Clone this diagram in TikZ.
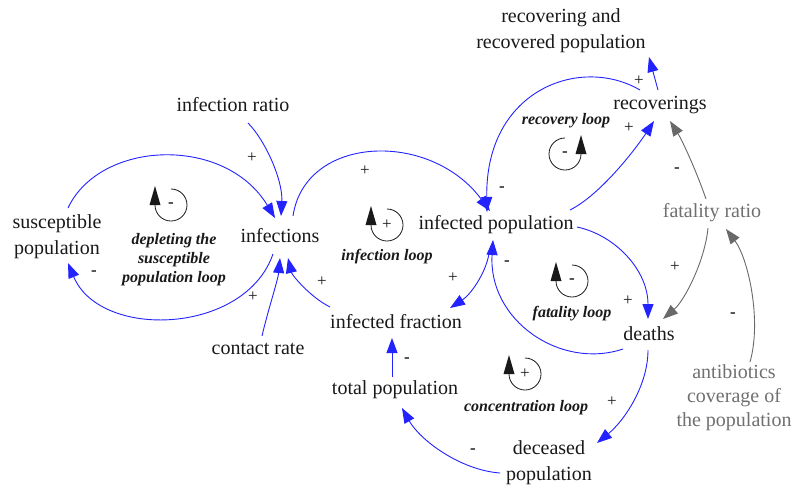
\documentclass[tikz,border=0pt]{standalone}
\usepackage{fontspec}
\setmainfont{Liberation Serif}
\newfontfamily\diagfont{Liberation Serif}
\usetikzlibrary{arrows.meta,calc}

\definecolor{linkblue}{RGB}{35,35,255}
\definecolor{linkgray}{RGB}{105,105,105}
\definecolor{auxgray}{RGB}{112,112,112}
\definecolor{ink}{RGB}{25,25,25}

\tikzset{
  var/.style={inner sep=0pt, font=\diagfont\fontsize{20}{26}\selectfont, align=center, text=ink},
  auxvar/.style={var, text=auxgray, font=\diagfont\fontsize{20}{24}\selectfont},
  looplabel/.style={inner sep=0pt, font=\diagfont\fontsize{16}{19}\selectfont\bfseries\itshape, align=center, text=ink},
  link/.style={draw=linkblue, line width=0.9pt, -{Triangle[length=15pt,width=11pt]}},
  glink/.style={draw=linkgray, line width=0.9pt, -{Triangle[length=15pt,width=11pt]}},
  plussign/.style={inner sep=0pt, font=\diagfont\fontsize{17}{17}\selectfont, text=ink},
  minussign/.style={inner sep=0pt, font=\diagfont\fontsize{17}{17}\selectfont\bfseries, text=ink},
  loopring/.style={draw=ink, line width=0.8pt},
}

% loop marker turning clockwise, head on the left pointing up
\newcommand\loopcw[1]{%
  \draw[loopring] ([shift={(0,-16)}]#1.center) arc[start angle=-90, end angle=180, radius=16];
  \fill[ink] ([shift={(-16,-19)}]#1.center) -- ([shift={(-21.5,0)}]#1.center)
       -- ([shift={(-10.5,0)}]#1.center) -- cycle;}
% loop marker turning counter-clockwise, head on the right pointing up
\newcommand\loopccw[1]{%
  \draw[loopring] ([shift={(0,-16)}]#1.center) arc[start angle=-90, end angle=-360, radius=16];
  \fill[ink] ([shift={(16,-19)}]#1.center) -- ([shift={(21.5,0)}]#1.center)
       -- ([shift={(10.5,0)}]#1.center) -- cycle;}

\begin{document}
\begin{tikzpicture}[x=1pt, y=-1pt]
\useasboundingbox (0,0) rectangle (793,491);
\fill[white] (0,0) rectangle (793,491);

% variables
\node[var] (sus)    at (57,237)  {susceptible\\population};
\node[var] (inf)    at (280,236) {infections};
\node[var] (ratio)  at (233,105) {infection ratio};
\node[var] (contact) at (258,349) {contact rate};
\node[var] (ipop)   at (496,225) {infected population};
\node[var] (ifrac)  at (396,322) {infected fraction};
\node[var] (total)  at (395,390) {total population};
\node[var] (dec)    at (549,463) {deceased\\population};
\node[var] (deaths) at (649,334) {deaths};
\node[var] (recov)  at (660,105) {recoverings};
\node[var] (rrp)    at (561,31)  {recovering and\\recovered population};
\node[auxvar] (fr)   at (712,213) {fatality ratio};
\node[auxvar] (anti) at (734,398) {antibiotics\\coverage of\\the population};

% loop names
\node[looplabel] (deplbl)  at (174,260) {depleting the\\susceptible\\population loop};
\node[looplabel] (inflbl)  at (387,257) {infection loop};
\node[looplabel] (reclbl)  at (566,121) {recovery loop};
\node[looplabel] (fatlbl)  at (572,314) {fatality loop};
\node[looplabel] (conclbl) at (526,408) {concentration loop};

% loop markers
\node[minussign] (depsym)  at (171,205) {-};
\node[plussign]  (infsym)  at (387,225) {+};
\node[minussign] (recsym)  at (565,154) {-};
\node[minussign] (fatsym)  at (572,281) {-};
\node[plussign]  (concsym) at (525,374) {+};
\loopcw{depsym}
\loopcw{infsym}
\loopccw{recsym}
\loopcw{fatsym}
\loopcw{concsym}

% causal links
\draw[link] ($(sus.center)+(11,-29)$) .. controls (100,140) and (225,135) .. ($(inf.center)+(-5,-18)$);
\draw[link] ($(ratio.center)+(15,18)$) .. controls (265,140) and (283,180) .. ($(inf.center)+(1,-20)$);
\draw[link] ($(inf.center)+(-7,18)$) .. controls (245,335) and (100,340) .. ($(sus.center)+(11,26)$);
\draw[link] ($(contact.center)+(4,-13)$) .. controls (268,310) and (278,280) .. ($(inf.center)+(0,22)$);
\draw[link] ($(ifrac.center)+(-66,-15)$) .. controls (310,297) and (292,275) .. ($(inf.center)+(8,22)$);
\draw[link] ($(inf.center)+(13,-20)$) .. controls (305,135) and (430,130) .. ($(ipop.center)+(-6,-14)$);
\draw[link] ($(recov.center)+(-20,-15)$) .. controls (580,55) and (485,90) .. ($(ipop.center)+(-9,-13)$);
\draw[link] ($(ipop.center)+(74,-15)$) .. controls (600,195) and (635,150) .. ($(recov.center)+(-6,16)$);
\draw[link] ($(recov.center)+(-2,-15)$) -- ($(rrp.center)+(88,26)$);
\draw[link] ($(ipop.center)+(81,2)$) .. controls (615,235) and (648,270) .. ($(deaths.center)+(-1,-15)$);
\draw[link] ($(deaths.center)+(-26,15)$) .. controls (560,370) and (488,320) .. ($(ipop.center)+(-3,15)$);
\draw[link] ($(ipop.center)+(-7,29)$) .. controls (485,275) and (470,295) .. ($(ifrac.center)+(54,-14)$);
\draw[link] ($(total.center)+(-3,-13)$) -- ($(ifrac.center)+(-4,16)$);
\draw[link] ($(deaths.center)+(-1,16)$) .. controls (648,385) and (625,420) .. ($(dec.center)+(48,-20)$);
\draw[link] ($(dec.center)+(-49,10)$) .. controls (460,470) and (420,440) .. ($(total.center)+(7,18)$);
\draw[glink] ($(fr.center)+(-6,-14)$) .. controls (696,170) and (682,140) .. ($(recov.center)+(10,16)$);
\draw[glink] ($(fr.center)+(-4,15)$) .. controls (705,260) and (685,300) .. ($(deaths.center)+(14,-15)$);
\draw[glink] ($(anti.center)+(16,-36)$) .. controls (762,320) and (748,258) .. ($(fr.center)+(14,16)$);

% link polarities
\node[plussign]  (s1)  at (252,158) {+};
\node[minussign] (s2)  at (94,273)  {-};
\node[plussign]  (s3)  at (253,297) {+};
\node[plussign]  (s4)  at (365,171) {+};
\node[plussign]  (s5)  at (322,282) {+};
\node[plussign]  (s6)  at (453,278) {+};
\node[minussign] (s7)  at (507,263) {-};
\node[minussign] (s8)  at (502,189) {-};
\node[plussign]  (s9)  at (639,81)  {+};
\node[plussign]  (s10) at (629,128) {+};
\node[minussign] (s11) at (677,170) {-};
\node[plussign]  (s12) at (675,267) {+};
\node[minussign] (s13) at (733,315) {-};
\node[plussign]  (s14) at (628,301) {+};
\node[plussign]  (s15) at (612,402) {+};
\node[minussign] (s16) at (407,360) {-};
\node[minussign] (s17) at (473,451) {-};
\end{tikzpicture}
\end{document}
